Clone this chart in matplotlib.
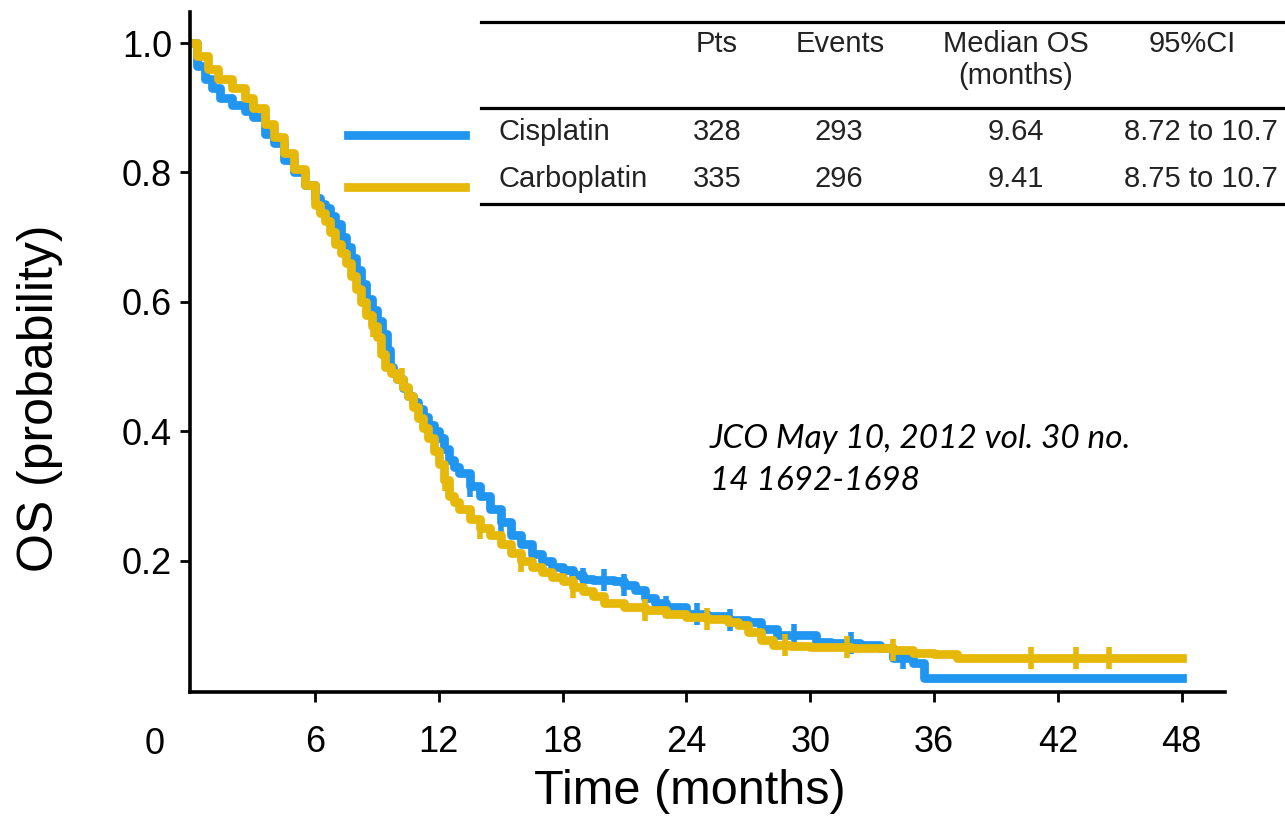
import numpy as np
import matplotlib
matplotlib.use('Agg')
import matplotlib.pyplot as plt
from matplotlib.lines import Line2D

# Kaplan-Meier overall survival
cis_t = [0, 0.3, 0.7, 1.0, 1.4, 2.0, 2.6, 3.0, 3.6, 4.0, 4.5, 5.0, 5.5, 6.0,
         6.25, 6.5, 6.75, 7.0, 7.25, 7.5, 7.75, 8.0, 8.25, 8.5, 8.75, 9.0, 9.25,
         9.5, 9.64, 9.8, 10.0, 10.25, 10.5, 10.75, 11.0, 11.25, 11.5, 11.75, 12.0,
         12.25, 12.5, 12.75, 13.0, 13.5, 14.0, 14.5, 15.0, 15.5, 16.0, 16.5, 17.0,
         17.5, 18.0, 18.5, 19.0, 19.5, 20.0, 20.5, 21.0, 21.5, 22.0, 22.5, 23.0,
         24.0, 25.0, 26.0, 27.0, 27.6, 28.4, 29.2, 30.3, 31.0, 32.4, 33.4, 34.0,
         35.0, 35.5, 48.0]
cis_s = [1.0, 0.965, 0.945, 0.93, 0.915, 0.905, 0.895, 0.885, 0.86, 0.845, 0.82,
         0.80, 0.78, 0.76, 0.752, 0.745, 0.732, 0.72, 0.70, 0.685, 0.668, 0.65,
         0.628, 0.605, 0.588, 0.57, 0.55, 0.525, 0.50, 0.49, 0.48, 0.467, 0.455,
         0.445, 0.435, 0.422, 0.41, 0.40, 0.39, 0.372, 0.355, 0.345, 0.335, 0.315,
         0.30, 0.28, 0.26, 0.24, 0.225, 0.21, 0.20, 0.19, 0.185, 0.178, 0.172,
         0.17, 0.17, 0.168, 0.163, 0.155, 0.142, 0.135, 0.128, 0.118, 0.115,
         0.108, 0.105, 0.095, 0.085, 0.085, 0.075, 0.072, 0.07, 0.065, 0.05,
         0.042, 0.019, 0.019]
cis_cens = [13.5, 15.0, 19.0, 20.0, 21.0, 23.0, 24.5, 26.1, 29.2, 32.0, 34.5]

carb_t = [0, 0.3, 0.8, 1.3, 2.0, 2.6, 3.0, 3.6, 4.0, 4.5, 5.0, 5.5, 6.0, 6.25,
          6.5, 6.75, 7.0, 7.25, 7.5, 7.75, 8.0, 8.25, 8.5, 8.75, 9.0, 9.2, 9.41,
          9.7, 10.0, 10.25, 10.5, 10.75, 11.0, 11.25, 11.5, 11.75, 12.0, 12.25,
          12.5, 12.75, 13.0, 13.5, 14.0, 14.5, 15.0, 15.5, 16.0, 16.5, 17.0, 17.5,
          18.0, 18.5, 19.0, 19.5, 20.0, 21.0, 22.0, 23.0, 24.0, 25.0, 26.0, 26.5,
          27.0, 27.6, 28.2, 29.0, 30.0, 32.0, 34.0, 35.0, 36.0, 37.1, 48.0]
carb_s = [1.0, 0.98, 0.96, 0.945, 0.93, 0.915, 0.90, 0.875, 0.855, 0.83, 0.805,
          0.78, 0.75, 0.738, 0.725, 0.708, 0.69, 0.675, 0.66, 0.64, 0.62, 0.60,
          0.58, 0.563, 0.545, 0.52, 0.50, 0.49, 0.48, 0.468, 0.455, 0.438, 0.42,
          0.405, 0.39, 0.37, 0.35, 0.325, 0.30, 0.29, 0.28, 0.265, 0.25, 0.24,
          0.225, 0.212, 0.20, 0.19, 0.182, 0.175, 0.168, 0.16, 0.153, 0.145,
          0.135, 0.128, 0.124, 0.118, 0.113, 0.11, 0.105, 0.10, 0.09, 0.078, 0.07,
          0.068, 0.066, 0.065, 0.062, 0.057, 0.055, 0.049, 0.049]
carb_cens = [8.8, 10.2, 12.3, 14.0, 16.0, 18.5, 22.0, 25.0, 28.8, 31.8, 34.0,
             40.7, 42.9, 44.5]

# table contents
col_heads = ['Pts', 'Events', 'Median OS\n(months)', '95%CI']
row_names = ['Cisplatin', 'Carboplatin']
pts = ['328', '335']
events = ['293', '296']
median_os = ['9.64', '9.41']
ci = ['8.72 to 10.7', '8.75 to 10.7']

blue = '#2196F0'
gold = '#E6B80A'

W, H = 1285, 832
def fx(px):
    return px / W
def fy(py):
    return 1 - py / H

def surv_at(t, s, times):
    idx = np.searchsorted(t, times, side='right') - 1
    return np.asarray(s)[idx]

plt.rcParams['font.family'] = ['Liberation Sans', 'DejaVu Sans']

fig = plt.figure(figsize=(12.85, 8.32), dpi=100)
ax = fig.add_axes([fx(190), fy(692), fx(1225) - fx(190), fy(12) - fy(692)])

lw = 6.3
ax.step(cis_t, cis_s, where='post', color=blue, lw=lw)
ax.plot(cis_cens, surv_at(cis_t, cis_s, cis_cens), '|', color=blue, ms=16, mew=4)
ax.step(carb_t, carb_s, where='post', color=gold, lw=lw)
ax.plot(carb_cens, surv_at(carb_t, carb_s, carb_cens), '|', color=gold, ms=16, mew=4)

ax.set_xlim(-0.05, 50.1)
ax.set_ylim(-0.003, 1.048)
ax.set_xticks(range(6, 49, 6))
ax.set_yticks([0.2, 0.4, 0.6, 0.8, 1.0])
ax.set_yticklabels(['0.2', '0.4', '0.6', '0.8', '1.0'])
ax.tick_params(direction='out', length=7, width=2, labelsize=26, colors='black')
ax.tick_params(axis='x', pad=17)
ax.tick_params(axis='y', pad=6)
for side in ['top', 'right']:
    ax.spines[side].set_visible(False)
for side in ['left', 'bottom']:
    ax.spines[side].set_linewidth(2.6)

# corner zero label
ax.annotate('0', xy=(0, 0), xycoords=('data', 'axes fraction'),
            xytext=(-26, -38), textcoords='offset points',
            ha='center', va='center', fontsize=26)

fig.text(fx(690), fy(792), 'Time (months)', ha='center', va='center', fontsize=35)
fig.text(fx(40), fy(398), 'OS (probability)', ha='center', va='center',
         rotation=90, fontsize=36)

# table rules
for py in [22, 108, 204]:
    fig.add_artist(Line2D([fx(481), 1.0], [fy(py), fy(py)], color='black', lw=2.3))

# legend swatches
fig.add_artist(Line2D([fx(348), fx(465)], [fy(135), fy(135)], color=blue, lw=lw))
fig.add_artist(Line2D([fx(348), fx(465)], [fy(187), fy(187)], color=gold, lw=lw))

tsize = 21
head_x = [717, 840, 1016, 1192]
for hx, h in zip(head_x, col_heads):
    fig.text(fx(hx), fy(30), h, ha='center', va='top', fontsize=tsize,
             linespacing=1.2, color='#222222')

row_y = [132, 179]
for i, ry in enumerate(row_y):
    fig.text(fx(498), fy(ry), row_names[i], ha='left', va='center', fontsize=tsize, color='#222222')
    fig.text(fx(717), fy(ry), pts[i], ha='center', va='center', fontsize=tsize, color='#222222')
    fig.text(fx(839), fy(ry), events[i], ha='center', va='center', fontsize=tsize, color='#222222')
    fig.text(fx(1016), fy(ry), median_os[i], ha='center', va='center', fontsize=tsize, color='#222222')
    fig.text(fx(1278), fy(ry), ci[i], ha='right', va='center', fontsize=tsize, color='#222222')

# citation
fig.text(fx(710), fy(448), 'JCO May 10, 2012 vol. 30 no.', ha='left', va='baseline',
         fontsize=24, style='italic', family=['Lato', 'DejaVu Sans'])
fig.text(fx(710), fy(490), '14 1692-1698', ha='left', va='baseline',
         fontsize=24, style='italic', family=['Lato', 'DejaVu Sans'])

fig.savefig('out.png', dpi=100)
